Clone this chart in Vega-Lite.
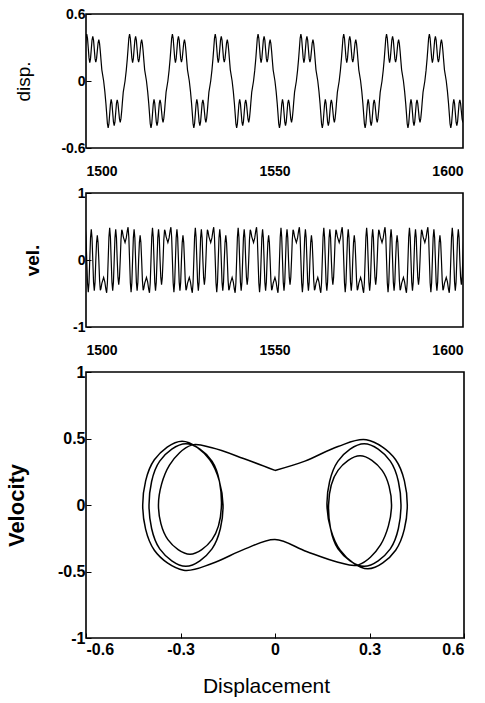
{
"$schema": "https://vega.github.io/schema/vega-lite/v6.json",
"padding": {"left": 4, "top": 6, "right": 5, "bottom": 5},
"background": "white",
"config": {
  "font": "Liberation Sans",
  "view": {"stroke": "black", "strokeWidth": 1.6},
  "axis": {"domain": false, "grid": false, "ticks": true, "tickSize": -5, "tickColor": "black", "tickWidth": 1, "labelColor": "black", "labelFont": "Liberation Sans", "labelFontWeight": "bold", "labelFontSize": 14, "titleColor": "black", "titleFont": "Liberation Sans"}
},
"datasets": {"orbit": [
{"t":1498.27,"d":-0.2,"v":0.43},{"t":1498.52,"d":-0.1,"v":0.35},
{"t":1499.00,"d":0,"v":0.26},{"t":1499.32,"d":0.095,"v":0.33},{"t":1499.60,"d":0.2,"v":0.44},{"t":1499.80,"d":0.29,"v":0.49},{"t":1500.00,"d":0.383,"v":0.34},{"t":1500.20,"d":0.42,"v":0},{"t":1500.40,"d":0.383,"v":-0.34},{"t":1500.60,"d":0.295,"v":-0.48},{"t":1500.80,"d":0.207,"v":-0.34},{"t":1501.00,"d":0.165,"v":0},{"t":1501.20,"d":0.2,"v":0.33},{"t":1501.40,"d":0.283,"v":0.46},{"t":1501.60,"d":0.366,"v":0.33},{"t":1501.80,"d":0.4,"v":0},{"t":1502.00,"d":0.366,"v":-0.33},{"t":1502.20,"d":0.283,"v":-0.46},{"t":1502.40,"d":0.2,"v":-0.33},{"t":1502.60,"d":0.17,"v":0},{"t":1502.80,"d":0.2,"v":0.26},{"t":1503.00,"d":0.27,"v":0.37},{"t":1503.20,"d":0.34,"v":0.26},{"t":1503.40,"d":0.37,"v":0},{"t":1503.60,"d":0.335,"v":-0.3},{"t":1503.80,"d":0.265,"v":-0.45},{"t":1503.95,"d":0.2,"v":-0.43},{"t":1504.20,"d":0.1,"v":-0.35},
{"t":1504.68,"d":0,"v":-0.26},{"t":1505.00,"d":-0.095,"v":-0.33},{"t":1505.28,"d":-0.2,"v":-0.44},{"t":1505.48,"d":-0.29,"v":-0.49},{"t":1505.68,"d":-0.383,"v":-0.34},{"t":1505.88,"d":-0.42,"v":0},{"t":1506.08,"d":-0.383,"v":0.34},{"t":1506.28,"d":-0.295,"v":0.48},{"t":1506.48,"d":-0.207,"v":0.34},{"t":1506.68,"d":-0.165,"v":0},{"t":1506.88,"d":-0.2,"v":-0.33},{"t":1507.08,"d":-0.283,"v":-0.46},{"t":1507.28,"d":-0.366,"v":-0.33},{"t":1507.48,"d":-0.4,"v":0},{"t":1507.68,"d":-0.366,"v":0.33},{"t":1507.88,"d":-0.283,"v":0.46},{"t":1508.08,"d":-0.2,"v":0.33},{"t":1508.28,"d":-0.17,"v":0},{"t":1508.48,"d":-0.2,"v":-0.26},{"t":1508.68,"d":-0.27,"v":-0.37},{"t":1508.88,"d":-0.34,"v":-0.26},{"t":1509.08,"d":-0.37,"v":0},{"t":1509.28,"d":-0.335,"v":0.3},{"t":1509.48,"d":-0.265,"v":0.45},{"t":1509.63,"d":-0.2,"v":0.43},{"t":1509.88,"d":-0.1,"v":0.35},
{"t":1510.36,"d":0,"v":0.26},{"t":1510.68,"d":0.095,"v":0.33},{"t":1510.96,"d":0.2,"v":0.44},{"t":1511.16,"d":0.29,"v":0.49},{"t":1511.36,"d":0.383,"v":0.34},{"t":1511.56,"d":0.42,"v":0},{"t":1511.76,"d":0.383,"v":-0.34},{"t":1511.96,"d":0.295,"v":-0.48},{"t":1512.16,"d":0.207,"v":-0.34},{"t":1512.36,"d":0.165,"v":0},{"t":1512.56,"d":0.2,"v":0.33},{"t":1512.76,"d":0.283,"v":0.46},{"t":1512.96,"d":0.366,"v":0.33},{"t":1513.16,"d":0.4,"v":0},{"t":1513.36,"d":0.366,"v":-0.33},{"t":1513.56,"d":0.283,"v":-0.46},{"t":1513.76,"d":0.2,"v":-0.33},{"t":1513.96,"d":0.17,"v":0},{"t":1514.16,"d":0.2,"v":0.26},{"t":1514.36,"d":0.27,"v":0.37},{"t":1514.56,"d":0.34,"v":0.26},{"t":1514.76,"d":0.37,"v":0},{"t":1514.96,"d":0.335,"v":-0.3},{"t":1515.16,"d":0.265,"v":-0.45},{"t":1515.31,"d":0.2,"v":-0.43},{"t":1515.56,"d":0.1,"v":-0.35},
{"t":1516.04,"d":0,"v":-0.26},{"t":1516.36,"d":-0.095,"v":-0.33},{"t":1516.64,"d":-0.2,"v":-0.44},{"t":1516.84,"d":-0.29,"v":-0.49},{"t":1517.04,"d":-0.383,"v":-0.34},{"t":1517.24,"d":-0.42,"v":0},{"t":1517.44,"d":-0.383,"v":0.34},{"t":1517.64,"d":-0.295,"v":0.48},{"t":1517.84,"d":-0.207,"v":0.34},{"t":1518.04,"d":-0.165,"v":0},{"t":1518.24,"d":-0.2,"v":-0.33},{"t":1518.44,"d":-0.283,"v":-0.46},{"t":1518.64,"d":-0.366,"v":-0.33},{"t":1518.84,"d":-0.4,"v":0},{"t":1519.04,"d":-0.366,"v":0.33},{"t":1519.24,"d":-0.283,"v":0.46},{"t":1519.44,"d":-0.2,"v":0.33},{"t":1519.64,"d":-0.17,"v":0},{"t":1519.84,"d":-0.2,"v":-0.26},{"t":1520.04,"d":-0.27,"v":-0.37},{"t":1520.24,"d":-0.34,"v":-0.26},{"t":1520.44,"d":-0.37,"v":0},{"t":1520.64,"d":-0.335,"v":0.3},{"t":1520.84,"d":-0.265,"v":0.45},{"t":1520.99,"d":-0.2,"v":0.43},{"t":1521.24,"d":-0.1,"v":0.35},
{"t":1521.72,"d":0,"v":0.26},{"t":1522.04,"d":0.095,"v":0.33},{"t":1522.32,"d":0.2,"v":0.44},{"t":1522.52,"d":0.29,"v":0.49},{"t":1522.72,"d":0.383,"v":0.34},{"t":1522.92,"d":0.42,"v":0},{"t":1523.12,"d":0.383,"v":-0.34},{"t":1523.32,"d":0.295,"v":-0.48},{"t":1523.52,"d":0.207,"v":-0.34},{"t":1523.72,"d":0.165,"v":0},{"t":1523.92,"d":0.2,"v":0.33},{"t":1524.12,"d":0.283,"v":0.46},{"t":1524.32,"d":0.366,"v":0.33},{"t":1524.52,"d":0.4,"v":0},{"t":1524.72,"d":0.366,"v":-0.33},{"t":1524.92,"d":0.283,"v":-0.46},{"t":1525.12,"d":0.2,"v":-0.33},{"t":1525.32,"d":0.17,"v":0},{"t":1525.52,"d":0.2,"v":0.26},{"t":1525.72,"d":0.27,"v":0.37},{"t":1525.92,"d":0.34,"v":0.26},{"t":1526.12,"d":0.37,"v":0},{"t":1526.32,"d":0.335,"v":-0.3},{"t":1526.52,"d":0.265,"v":-0.45},{"t":1526.67,"d":0.2,"v":-0.43},{"t":1526.92,"d":0.1,"v":-0.35},
{"t":1527.40,"d":0,"v":-0.26},{"t":1527.72,"d":-0.095,"v":-0.33},{"t":1528.00,"d":-0.2,"v":-0.44},{"t":1528.20,"d":-0.29,"v":-0.49},{"t":1528.40,"d":-0.383,"v":-0.34},{"t":1528.60,"d":-0.42,"v":0},{"t":1528.80,"d":-0.383,"v":0.34},{"t":1529.00,"d":-0.295,"v":0.48},{"t":1529.20,"d":-0.207,"v":0.34},{"t":1529.40,"d":-0.165,"v":0},{"t":1529.60,"d":-0.2,"v":-0.33},{"t":1529.80,"d":-0.283,"v":-0.46},{"t":1530.00,"d":-0.366,"v":-0.33},{"t":1530.20,"d":-0.4,"v":0},{"t":1530.40,"d":-0.366,"v":0.33},{"t":1530.60,"d":-0.283,"v":0.46},{"t":1530.80,"d":-0.2,"v":0.33},{"t":1531.00,"d":-0.17,"v":0},{"t":1531.20,"d":-0.2,"v":-0.26},{"t":1531.40,"d":-0.27,"v":-0.37},{"t":1531.60,"d":-0.34,"v":-0.26},{"t":1531.80,"d":-0.37,"v":0},{"t":1532.00,"d":-0.335,"v":0.3},{"t":1532.20,"d":-0.265,"v":0.45},{"t":1532.35,"d":-0.2,"v":0.43},{"t":1532.60,"d":-0.1,"v":0.35},
{"t":1533.08,"d":0,"v":0.26},{"t":1533.40,"d":0.095,"v":0.33},{"t":1533.68,"d":0.2,"v":0.44},{"t":1533.88,"d":0.29,"v":0.49},{"t":1534.08,"d":0.383,"v":0.34},{"t":1534.28,"d":0.42,"v":0},{"t":1534.48,"d":0.383,"v":-0.34},{"t":1534.68,"d":0.295,"v":-0.48},{"t":1534.88,"d":0.207,"v":-0.34},{"t":1535.08,"d":0.165,"v":0},{"t":1535.28,"d":0.2,"v":0.33},{"t":1535.48,"d":0.283,"v":0.46},{"t":1535.68,"d":0.366,"v":0.33},{"t":1535.88,"d":0.4,"v":0},{"t":1536.08,"d":0.366,"v":-0.33},{"t":1536.28,"d":0.283,"v":-0.46},{"t":1536.48,"d":0.2,"v":-0.33},{"t":1536.68,"d":0.17,"v":0},{"t":1536.88,"d":0.2,"v":0.26},{"t":1537.08,"d":0.27,"v":0.37},{"t":1537.28,"d":0.34,"v":0.26},{"t":1537.48,"d":0.37,"v":0},{"t":1537.68,"d":0.335,"v":-0.3},{"t":1537.88,"d":0.265,"v":-0.45},{"t":1538.03,"d":0.2,"v":-0.43},{"t":1538.28,"d":0.1,"v":-0.35},
{"t":1538.76,"d":0,"v":-0.26},{"t":1539.08,"d":-0.095,"v":-0.33},{"t":1539.36,"d":-0.2,"v":-0.44},{"t":1539.56,"d":-0.29,"v":-0.49},{"t":1539.76,"d":-0.383,"v":-0.34},{"t":1539.96,"d":-0.42,"v":0},{"t":1540.16,"d":-0.383,"v":0.34},{"t":1540.36,"d":-0.295,"v":0.48},{"t":1540.56,"d":-0.207,"v":0.34},{"t":1540.76,"d":-0.165,"v":0},{"t":1540.96,"d":-0.2,"v":-0.33},{"t":1541.16,"d":-0.283,"v":-0.46},{"t":1541.36,"d":-0.366,"v":-0.33},{"t":1541.56,"d":-0.4,"v":0},{"t":1541.76,"d":-0.366,"v":0.33},{"t":1541.96,"d":-0.283,"v":0.46},{"t":1542.16,"d":-0.2,"v":0.33},{"t":1542.36,"d":-0.17,"v":0},{"t":1542.56,"d":-0.2,"v":-0.26},{"t":1542.76,"d":-0.27,"v":-0.37},{"t":1542.96,"d":-0.34,"v":-0.26},{"t":1543.16,"d":-0.37,"v":0},{"t":1543.36,"d":-0.335,"v":0.3},{"t":1543.56,"d":-0.265,"v":0.45},{"t":1543.71,"d":-0.2,"v":0.43},{"t":1543.96,"d":-0.1,"v":0.35},
{"t":1544.44,"d":0,"v":0.26},{"t":1544.76,"d":0.095,"v":0.33},{"t":1545.04,"d":0.2,"v":0.44},{"t":1545.24,"d":0.29,"v":0.49},{"t":1545.44,"d":0.383,"v":0.34},{"t":1545.64,"d":0.42,"v":0},{"t":1545.84,"d":0.383,"v":-0.34},{"t":1546.04,"d":0.295,"v":-0.48},{"t":1546.24,"d":0.207,"v":-0.34},{"t":1546.44,"d":0.165,"v":0},{"t":1546.64,"d":0.2,"v":0.33},{"t":1546.84,"d":0.283,"v":0.46},{"t":1547.04,"d":0.366,"v":0.33},{"t":1547.24,"d":0.4,"v":0},{"t":1547.44,"d":0.366,"v":-0.33},{"t":1547.64,"d":0.283,"v":-0.46},{"t":1547.84,"d":0.2,"v":-0.33},{"t":1548.04,"d":0.17,"v":0},{"t":1548.24,"d":0.2,"v":0.26},{"t":1548.44,"d":0.27,"v":0.37},{"t":1548.64,"d":0.34,"v":0.26},{"t":1548.84,"d":0.37,"v":0},{"t":1549.04,"d":0.335,"v":-0.3},{"t":1549.24,"d":0.265,"v":-0.45},{"t":1549.39,"d":0.2,"v":-0.43},{"t":1549.64,"d":0.1,"v":-0.35},
{"t":1550.12,"d":0,"v":-0.26},{"t":1550.44,"d":-0.095,"v":-0.33},{"t":1550.72,"d":-0.2,"v":-0.44},{"t":1550.92,"d":-0.29,"v":-0.49},{"t":1551.12,"d":-0.383,"v":-0.34},{"t":1551.32,"d":-0.42,"v":0},{"t":1551.52,"d":-0.383,"v":0.34},{"t":1551.72,"d":-0.295,"v":0.48},{"t":1551.92,"d":-0.207,"v":0.34},{"t":1552.12,"d":-0.165,"v":0},{"t":1552.32,"d":-0.2,"v":-0.33},{"t":1552.52,"d":-0.283,"v":-0.46},{"t":1552.72,"d":-0.366,"v":-0.33},{"t":1552.92,"d":-0.4,"v":0},{"t":1553.12,"d":-0.366,"v":0.33},{"t":1553.32,"d":-0.283,"v":0.46},{"t":1553.52,"d":-0.2,"v":0.33},{"t":1553.72,"d":-0.17,"v":0},{"t":1553.92,"d":-0.2,"v":-0.26},{"t":1554.12,"d":-0.27,"v":-0.37},{"t":1554.32,"d":-0.34,"v":-0.26},{"t":1554.52,"d":-0.37,"v":0},{"t":1554.72,"d":-0.335,"v":0.3},{"t":1554.92,"d":-0.265,"v":0.45},{"t":1555.07,"d":-0.2,"v":0.43},{"t":1555.32,"d":-0.1,"v":0.35},
{"t":1555.80,"d":0,"v":0.26},{"t":1556.12,"d":0.095,"v":0.33},{"t":1556.40,"d":0.2,"v":0.44},{"t":1556.60,"d":0.29,"v":0.49},{"t":1556.80,"d":0.383,"v":0.34},{"t":1557.00,"d":0.42,"v":0},{"t":1557.20,"d":0.383,"v":-0.34},{"t":1557.40,"d":0.295,"v":-0.48},{"t":1557.60,"d":0.207,"v":-0.34},{"t":1557.80,"d":0.165,"v":0},{"t":1558.00,"d":0.2,"v":0.33},{"t":1558.20,"d":0.283,"v":0.46},{"t":1558.40,"d":0.366,"v":0.33},{"t":1558.60,"d":0.4,"v":0},{"t":1558.80,"d":0.366,"v":-0.33},{"t":1559.00,"d":0.283,"v":-0.46},{"t":1559.20,"d":0.2,"v":-0.33},{"t":1559.40,"d":0.17,"v":0},{"t":1559.60,"d":0.2,"v":0.26},{"t":1559.80,"d":0.27,"v":0.37},{"t":1560.00,"d":0.34,"v":0.26},{"t":1560.20,"d":0.37,"v":0},{"t":1560.40,"d":0.335,"v":-0.3},{"t":1560.60,"d":0.265,"v":-0.45},{"t":1560.75,"d":0.2,"v":-0.43},{"t":1561.00,"d":0.1,"v":-0.35},
{"t":1561.48,"d":0,"v":-0.26},{"t":1561.80,"d":-0.095,"v":-0.33},{"t":1562.08,"d":-0.2,"v":-0.44},{"t":1562.28,"d":-0.29,"v":-0.49},{"t":1562.48,"d":-0.383,"v":-0.34},{"t":1562.68,"d":-0.42,"v":0},{"t":1562.88,"d":-0.383,"v":0.34},{"t":1563.08,"d":-0.295,"v":0.48},{"t":1563.28,"d":-0.207,"v":0.34},{"t":1563.48,"d":-0.165,"v":0},{"t":1563.68,"d":-0.2,"v":-0.33},{"t":1563.88,"d":-0.283,"v":-0.46},{"t":1564.08,"d":-0.366,"v":-0.33},{"t":1564.28,"d":-0.4,"v":0},{"t":1564.48,"d":-0.366,"v":0.33},{"t":1564.68,"d":-0.283,"v":0.46},{"t":1564.88,"d":-0.2,"v":0.33},{"t":1565.08,"d":-0.17,"v":0},{"t":1565.28,"d":-0.2,"v":-0.26},{"t":1565.48,"d":-0.27,"v":-0.37},{"t":1565.68,"d":-0.34,"v":-0.26},{"t":1565.88,"d":-0.37,"v":0},{"t":1566.08,"d":-0.335,"v":0.3},{"t":1566.28,"d":-0.265,"v":0.45},{"t":1566.43,"d":-0.2,"v":0.43},{"t":1566.68,"d":-0.1,"v":0.35},
{"t":1567.16,"d":0,"v":0.26},{"t":1567.48,"d":0.095,"v":0.33},{"t":1567.76,"d":0.2,"v":0.44},{"t":1567.96,"d":0.29,"v":0.49},{"t":1568.16,"d":0.383,"v":0.34},{"t":1568.36,"d":0.42,"v":0},{"t":1568.56,"d":0.383,"v":-0.34},{"t":1568.76,"d":0.295,"v":-0.48},{"t":1568.96,"d":0.207,"v":-0.34},{"t":1569.16,"d":0.165,"v":0},{"t":1569.36,"d":0.2,"v":0.33},{"t":1569.56,"d":0.283,"v":0.46},{"t":1569.76,"d":0.366,"v":0.33},{"t":1569.96,"d":0.4,"v":0},{"t":1570.16,"d":0.366,"v":-0.33},{"t":1570.36,"d":0.283,"v":-0.46},{"t":1570.56,"d":0.2,"v":-0.33},{"t":1570.76,"d":0.17,"v":0},{"t":1570.96,"d":0.2,"v":0.26},{"t":1571.16,"d":0.27,"v":0.37},{"t":1571.36,"d":0.34,"v":0.26},{"t":1571.56,"d":0.37,"v":0},{"t":1571.76,"d":0.335,"v":-0.3},{"t":1571.96,"d":0.265,"v":-0.45},{"t":1572.11,"d":0.2,"v":-0.43},{"t":1572.36,"d":0.1,"v":-0.35},
{"t":1572.84,"d":0,"v":-0.26},{"t":1573.16,"d":-0.095,"v":-0.33},{"t":1573.44,"d":-0.2,"v":-0.44},{"t":1573.64,"d":-0.29,"v":-0.49},{"t":1573.84,"d":-0.383,"v":-0.34},{"t":1574.04,"d":-0.42,"v":0},{"t":1574.24,"d":-0.383,"v":0.34},{"t":1574.44,"d":-0.295,"v":0.48},{"t":1574.64,"d":-0.207,"v":0.34},{"t":1574.84,"d":-0.165,"v":0},{"t":1575.04,"d":-0.2,"v":-0.33},{"t":1575.24,"d":-0.283,"v":-0.46},{"t":1575.44,"d":-0.366,"v":-0.33},{"t":1575.64,"d":-0.4,"v":0},{"t":1575.84,"d":-0.366,"v":0.33},{"t":1576.04,"d":-0.283,"v":0.46},{"t":1576.24,"d":-0.2,"v":0.33},{"t":1576.44,"d":-0.17,"v":0},{"t":1576.64,"d":-0.2,"v":-0.26},{"t":1576.84,"d":-0.27,"v":-0.37},{"t":1577.04,"d":-0.34,"v":-0.26},{"t":1577.24,"d":-0.37,"v":0},{"t":1577.44,"d":-0.335,"v":0.3},{"t":1577.64,"d":-0.265,"v":0.45},{"t":1577.79,"d":-0.2,"v":0.43},{"t":1578.04,"d":-0.1,"v":0.35},
{"t":1578.52,"d":0,"v":0.26},{"t":1578.84,"d":0.095,"v":0.33},{"t":1579.12,"d":0.2,"v":0.44},{"t":1579.32,"d":0.29,"v":0.49},{"t":1579.52,"d":0.383,"v":0.34},{"t":1579.72,"d":0.42,"v":0},{"t":1579.92,"d":0.383,"v":-0.34},{"t":1580.12,"d":0.295,"v":-0.48},{"t":1580.32,"d":0.207,"v":-0.34},{"t":1580.52,"d":0.165,"v":0},{"t":1580.72,"d":0.2,"v":0.33},{"t":1580.92,"d":0.283,"v":0.46},{"t":1581.12,"d":0.366,"v":0.33},{"t":1581.32,"d":0.4,"v":0},{"t":1581.52,"d":0.366,"v":-0.33},{"t":1581.72,"d":0.283,"v":-0.46},{"t":1581.92,"d":0.2,"v":-0.33},{"t":1582.12,"d":0.17,"v":0},{"t":1582.32,"d":0.2,"v":0.26},{"t":1582.52,"d":0.27,"v":0.37},{"t":1582.72,"d":0.34,"v":0.26},{"t":1582.92,"d":0.37,"v":0},{"t":1583.12,"d":0.335,"v":-0.3},{"t":1583.32,"d":0.265,"v":-0.45},{"t":1583.47,"d":0.2,"v":-0.43},{"t":1583.72,"d":0.1,"v":-0.35},
{"t":1584.20,"d":0,"v":-0.26},{"t":1584.52,"d":-0.095,"v":-0.33},{"t":1584.80,"d":-0.2,"v":-0.44},{"t":1585.00,"d":-0.29,"v":-0.49},{"t":1585.20,"d":-0.383,"v":-0.34},{"t":1585.40,"d":-0.42,"v":0},{"t":1585.60,"d":-0.383,"v":0.34},{"t":1585.80,"d":-0.295,"v":0.48},{"t":1586.00,"d":-0.207,"v":0.34},{"t":1586.20,"d":-0.165,"v":0},{"t":1586.40,"d":-0.2,"v":-0.33},{"t":1586.60,"d":-0.283,"v":-0.46},{"t":1586.80,"d":-0.366,"v":-0.33},{"t":1587.00,"d":-0.4,"v":0},{"t":1587.20,"d":-0.366,"v":0.33},{"t":1587.40,"d":-0.283,"v":0.46},{"t":1587.60,"d":-0.2,"v":0.33},{"t":1587.80,"d":-0.17,"v":0},{"t":1588.00,"d":-0.2,"v":-0.26},{"t":1588.20,"d":-0.27,"v":-0.37},{"t":1588.40,"d":-0.34,"v":-0.26},{"t":1588.60,"d":-0.37,"v":0},{"t":1588.80,"d":-0.335,"v":0.3},{"t":1589.00,"d":-0.265,"v":0.45},{"t":1589.15,"d":-0.2,"v":0.43},{"t":1589.40,"d":-0.1,"v":0.35},
{"t":1589.88,"d":0,"v":0.26},{"t":1590.20,"d":0.095,"v":0.33},{"t":1590.48,"d":0.2,"v":0.44},{"t":1590.68,"d":0.29,"v":0.49},{"t":1590.88,"d":0.383,"v":0.34},{"t":1591.08,"d":0.42,"v":0},{"t":1591.28,"d":0.383,"v":-0.34},{"t":1591.48,"d":0.295,"v":-0.48},{"t":1591.68,"d":0.207,"v":-0.34},{"t":1591.88,"d":0.165,"v":0},{"t":1592.08,"d":0.2,"v":0.33},{"t":1592.28,"d":0.283,"v":0.46},{"t":1592.48,"d":0.366,"v":0.33},{"t":1592.68,"d":0.4,"v":0},{"t":1592.88,"d":0.366,"v":-0.33},{"t":1593.08,"d":0.283,"v":-0.46},{"t":1593.28,"d":0.2,"v":-0.33},{"t":1593.48,"d":0.17,"v":0},{"t":1593.68,"d":0.2,"v":0.26},{"t":1593.88,"d":0.27,"v":0.37},{"t":1594.08,"d":0.34,"v":0.26},{"t":1594.28,"d":0.37,"v":0},{"t":1594.48,"d":0.335,"v":-0.3},{"t":1594.68,"d":0.265,"v":-0.45},{"t":1594.83,"d":0.2,"v":-0.43},{"t":1595.08,"d":0.1,"v":-0.35},
{"t":1595.56,"d":0,"v":-0.26},{"t":1595.88,"d":-0.095,"v":-0.33},{"t":1596.16,"d":-0.2,"v":-0.44},{"t":1596.36,"d":-0.29,"v":-0.49},{"t":1596.56,"d":-0.383,"v":-0.34},{"t":1596.76,"d":-0.42,"v":0},{"t":1596.96,"d":-0.383,"v":0.34},{"t":1597.16,"d":-0.295,"v":0.48},{"t":1597.36,"d":-0.207,"v":0.34},{"t":1597.56,"d":-0.165,"v":0},{"t":1597.76,"d":-0.2,"v":-0.33},{"t":1597.96,"d":-0.283,"v":-0.46},{"t":1598.16,"d":-0.366,"v":-0.33},{"t":1598.36,"d":-0.4,"v":0},{"t":1598.56,"d":-0.366,"v":0.33},{"t":1598.76,"d":-0.283,"v":0.46},{"t":1598.96,"d":-0.2,"v":0.33},{"t":1599.16,"d":-0.17,"v":0},{"t":1599.36,"d":-0.2,"v":-0.26},{"t":1599.56,"d":-0.27,"v":-0.37},{"t":1599.76,"d":-0.34,"v":-0.26},{"t":1599.96,"d":-0.37,"v":0},{"t":1600.16,"d":-0.335,"v":0.3},{"t":1600.36,"d":-0.265,"v":0.45}
]},
"bounds": "flush",
"spacing": 45,
"vconcat": [
  {
    "width": 377, "height": 134,
    "data": {"name": "orbit"},
    "mark": {"type": "line", "color": "black", "strokeWidth": 1.2, "clip": true},
    "encoding": {
      "x": {"field": "t", "type": "quantitative", "scale": {"domain": [1500, 1600], "nice": false, "zero": false},
            "axis": {"values": [1500, 1550, 1600], "format": "d", "title": null, "labelPadding": 16, "ticks": false}},
      "y": {"field": "d", "type": "quantitative", "scale": {"domain": [-0.6, 0.6], "nice": false},
            "axis": {"values": [-0.6, 0, 0.6], "labelExpr": "datum.value == 0 ? '0' : (datum.value < 0 ? '-' : '') + format(abs(datum.value), '~g')", "title": "disp.", "titleFontSize": 19, "titleFontWeight": "normal", "titleX": -53, "labelPadding": 6}}
    }
  },
  {
    "width": 377, "height": 134,
    "data": {"name": "orbit"},
    "mark": {"type": "line", "color": "black", "strokeWidth": 1.2, "clip": true},
    "encoding": {
      "x": {"field": "t", "type": "quantitative", "scale": {"domain": [1500, 1600], "nice": false, "zero": false},
            "axis": {"values": [1500, 1550, 1600], "format": "d", "title": null, "labelPadding": 16, "ticks": false}},
      "y": {"field": "v", "type": "quantitative", "scale": {"domain": [-1, 1], "nice": false},
            "axis": {"values": [-1, 0, 1], "labelExpr": "datum.value == 0 ? '0' : (datum.value < 0 ? '-' : '') + format(abs(datum.value), '~g')", "title": "vel.", "titleFontSize": 19, "titleFontWeight": "bold", "titleX": -44, "labelPadding": 6}}
    }
  },
  {
    "width": 378, "height": 266,
    "data": {"name": "orbit"},
    "transform": [{"filter": {"field": "t", "range": [1510.36, 1521.72]}}],
    "mark": {"type": "line", "color": "black", "strokeWidth": 1.5, "interpolate": "catmull-rom", "clip": true},
    "encoding": {
      "x": {"field": "d", "type": "quantitative", "scale": {"domain": [-0.6, 0.6], "nice": false},
            "axis": {"values": [-0.6, -0.3, 0, 0.3, 0.6], "labelExpr": "datum.value == 0 ? '0' : (datum.value < 0 ? '-' : '') + format(abs(datum.value), '~g')", "title": "Displacement", "titleFontSize": 21, "titleFontWeight": "normal", "titlePadding": 18, "titleX": 180, "labelPadding": 8, "labelFontSize": 16}},
      "y": {"field": "v", "type": "quantitative", "scale": {"domain": [-1, 1], "nice": false},
            "axis": {"values": [-1, -0.5, 0, 0.5, 1], "labelExpr": "datum.value == 0 ? '0' : (datum.value < 0 ? '-' : '') + format(abs(datum.value), '~g')", "title": "Velocity", "titleFontSize": 22, "titleFontWeight": "bold", "titleX": -58, "labelPadding": 6, "labelFontSize": 16}},
      "order": {"field": "t", "type": "quantitative"}
    }
  }
]
}
